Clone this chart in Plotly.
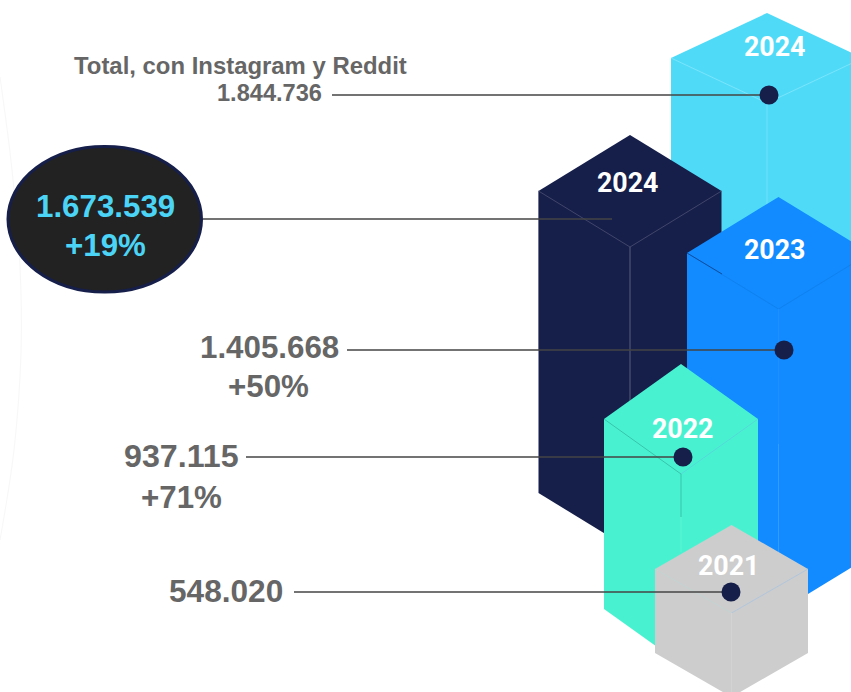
import plotly.graph_objects as go

# ---- data ----
years = ["2024", "2024", "2023", "2022", "2021"]
values = [1844736, 1673539, 1405668, 937115, 548020]
changes = [None, "+19%", "+50%", "+71%", None]
total_label = "Total, con Instagram y Reddit"

# ---- styling / layout (pixel space of the 851x692 page) ----
W, H = 851, 692
FILL = ["#4fdbf8", "#161e4a", "#118bff", "#48f2d0", "#cdcdcd"]
EDGE_L = ["#86e6fb", "#4b5072", "#0f7fe8", "#35b8a4", "#bfd6d2"]
EDGE_R = ["#86e6fb", "#4b5072", "#0f7fe8", "#58d0dc", "#a9c4e0"]
EDGE_V = ["#7ce3fa", "#6a6e86", "#1f92ff", "#35b8a4", "#d4d4d4"]
# centre x, apex y, half width, roof rise, body height, length of centre edge
PRISM = [
    (767, 13, 96, 45, 300, 120),
    (630, 135, 91.5, 56, 302, 200),
    (778.5, 197, 91.5, 56, 303, 135),
    (681, 364, 77, 55, 190, 43),
    (731.5, 525, 76.5, 44, 84, 84),
]
# lighter lower parts of the centre edges: prism index, length from the front vertex
V_LOW = [(2, 135, 243, "#3d9fff"), (3, 43, 78, "#62f4d8")]
LABEL_Y = [95, 219, 350, 457, 592]
LINE_X = [(332, 769), (203, 612), (347, 784), (246, 683), (294, 731)]
DOT_X = [769, None, 784, 683, 731]
VALUE_POS = [(269, 93, 23.6), (105, 206, 31.3), (269.5, 347, 31.3), (181.5, 456, 32.2), (226, 591, 31.6)]
CHANGE_POS = [None, (105, 245, 31.3), (268.5, 386, 31.3), (181, 497, 31.3), None]
YEAR_POS = [(775, 47), (628, 183), (775, 250), (683, 429), (729, 566)]
GREY = "#666666"
NAVY = "#161e4a"
CYAN_TXT = "#4bd4f5"


def fmt(v):
    return f"{v:,}".replace(",", ".")


fig = go.Figure()

# faint background arc at the left edge
fig.add_trace(go.Scatter(
    x=[0, 12, 20, 21, 14, 0], y=[77, 170, 267, 353, 450, 540],
    mode="lines", line=dict(color="#f7f7f7", width=1, shape="spline"), hoverinfo="skip"))

for (cx, top, hw, rise, body, vlen), fill, el, er, ev in zip(PRISM, FILL, EDGE_L, EDGE_R, EDGE_V):
    sh = top + rise
    front = sh + rise
    fig.add_trace(go.Scatter(
        x=[cx, cx + hw, cx + hw, cx, cx - hw, cx - hw, cx],
        y=[top, sh, sh + body, front + body, sh + body, sh, top],
        mode="lines", fill="toself", fillcolor=fill, line=dict(color=fill, width=0),
        hoverinfo="skip"))
    for xs, ys, col in [([cx - hw, cx], [sh, front], el), ([cx, cx + hw], [front, sh], er),
                        ([cx, cx], [front, front + vlen], ev)]:
        fig.add_trace(go.Scatter(x=xs, y=ys, mode="lines",
                                 line=dict(color=col, width=0.8), hoverinfo="skip"))

for i, a, b, col in V_LOW:
    cx, top, hw, rise, body, vlen = PRISM[i]
    f = top + 2 * rise
    fig.add_trace(go.Scatter(x=[cx, cx], y=[f + a, f + b], mode="lines",
                             line=dict(color=col, width=0.8), hoverinfo="skip"))

# left edge highlight of the navy prism
cx, top, hw, rise, body, vlen = PRISM[1]
fig.add_trace(go.Scatter(x=[cx - hw, cx - hw], y=[top + rise, 350], mode="lines",
                         line=dict(color="#6a6e86", width=0.8), hoverinfo="skip"))
# short dark stroke on the blue roof
cx, top, hw, rise, body, vlen = PRISM[2]
fig.add_trace(go.Scatter(x=[cx - hw, cx - hw + 35], y=[top + rise, top + rise + 21], mode="lines",
                         line=dict(color="#14408c", width=0.8), hoverinfo="skip"))

# leader lines and dots
for (x0, x1), y in zip(LINE_X, LABEL_Y):
    fig.add_trace(go.Scatter(x=[x0, x1], y=[y, y], mode="lines",
                             line=dict(color="#444444", width=1.4), hoverinfo="skip"))
dx = [x for x in DOT_X if x is not None]
dy = [y for x, y in zip(DOT_X, LABEL_Y) if x is not None]
fig.add_trace(go.Scatter(x=dx, y=dy, mode="markers",
                         marker=dict(color=NAVY, size=19, line=dict(width=0)), hoverinfo="skip"))

shapes = [dict(type="circle", xref="x", yref="y", x0=8, x1=201.5, y0=146.5, y1=292,
               fillcolor="#222222", line=dict(color=NAVY, width=3), layer="above")]

ann = []


def text(x, y, s, size, color, family="Liberation Sans"):
    ann.append(dict(x=x, y=y, xref="x", yref="y", text=f"<b>{s}</b>", showarrow=False,
                    xanchor="center", yanchor="middle",
                    font=dict(family=family, size=size, color=color)))


text(240, 65, total_label, 23.9, GREY)
for i, (v, (x, y, s)) in enumerate(zip(values, VALUE_POS)):
    text(x, y, fmt(v), s, CYAN_TXT if i == 1 else GREY)
for i, (c, p) in enumerate(zip(changes, CHANGE_POS)):
    if c:
        text(p[0], p[1], c, p[2], CYAN_TXT if i == 1 else GREY)
for yr, (x, y) in zip(years, YEAR_POS):
    text(x, y, yr, 26.8, "#ffffff", "Roboto")

fig.update_layout(
    width=W, height=H, autosize=False, showlegend=False,
    margin=dict(l=0, r=0, t=0, b=0), paper_bgcolor="white", plot_bgcolor="white",
    xaxis=dict(range=[0, W], visible=False, fixedrange=True),
    yaxis=dict(range=[H, 0], visible=False, fixedrange=True),
    shapes=shapes, annotations=ann)

fig.write_html("out.html", config=dict(displayModeBar=False),
               post_script="document.body.style.margin='0';document.body.style.overflow='hidden';")
